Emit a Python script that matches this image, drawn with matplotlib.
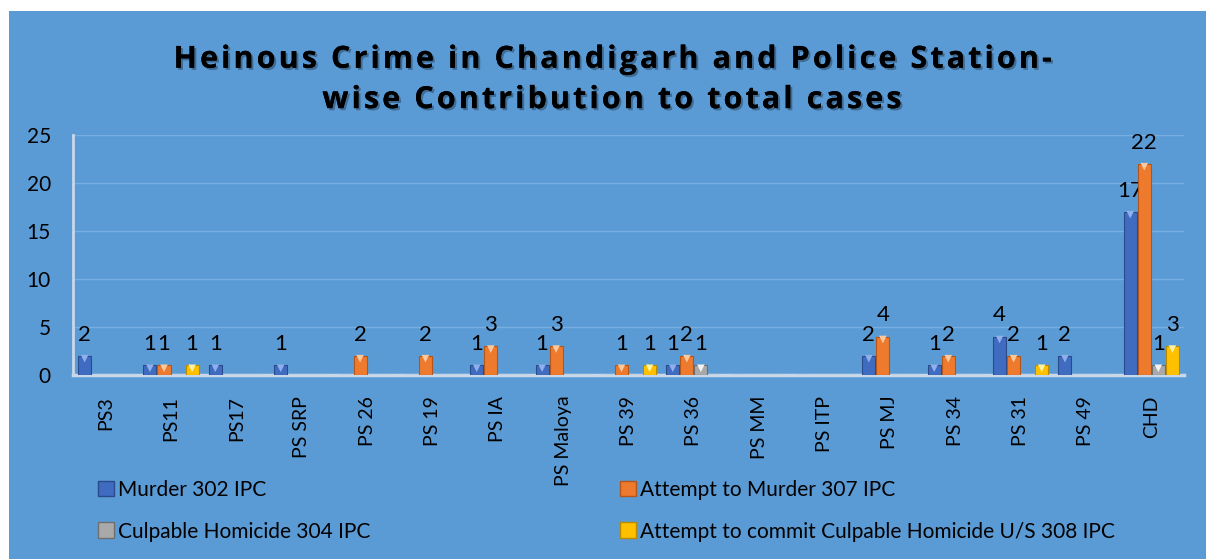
import numpy as np
import matplotlib
matplotlib.use('Agg')
import matplotlib.pyplot as plt
from matplotlib.patches import Rectangle, Patch
import matplotlib.patheffects as pe

# Datos del gráfico
estaciones = ['PS3', 'PS11', 'PS17', 'PS SRP', 'PS 26', 'PS 19', 'PS IA', 'PS Maloya',
              'PS 39', 'PS 36', 'PS MM', 'PS ITP', 'PS MJ', 'PS 34', 'PS 31', 'PS 49', 'CHD']
murder = [2, 1, 1, 1, 0, 0, 1, 1, 0, 1, 0, 0, 2, 1, 4, 2, 17]
attempt_murder = [0, 1, 0, 0, 2, 2, 3, 3, 1, 2, 0, 0, 4, 2, 2, 0, 22]
culpable = [0, 0, 0, 0, 0, 0, 0, 0, 0, 1, 0, 0, 0, 0, 0, 0, 1]
attempt_culpable = [0, 1, 0, 0, 0, 0, 0, 0, 1, 0, 0, 0, 0, 0, 1, 0, 3]

series = ['Murder 302 IPC', 'Attempt to Murder 307 IPC',
          'Culpable Homicide 304 IPC', 'Attempt to commit Culpable Homicide U/S 308 IPC']
colores = ['#3F6CC0', '#EE7A2E', '#A9A9A9', '#FFC000']
bordes = ['#2A4A8A', '#B4561A', '#6E6E6E', '#B88A00']
brillo = ['#8FB0EC', '#FBC9A0', '#F2F2F2', '#FFF2A0']

fondo = '#5B9BD5'
plt.rcParams['font.family'] = ['Lato', 'DejaVu Sans']

fig = plt.figure(figsize=(12.06, 5.59), dpi=100)
fig.patch.set_facecolor('white')
fig.patches.append(Rectangle((9 / 1206, 0), 1, (559 - 11) / 559, transform=fig.transFigure,
                             facecolor=fondo, edgecolor='none', zorder=-10))

ax = fig.add_axes([73 / 1206, 184 / 559, 1111 / 1206, 240 / 559])
ax.set_facecolor('none')

x = np.arange(len(estaciones))
ancho = 0.2
paso = 0.215
datos = [murder, attempt_murder, culpable, attempt_culpable]
for i, valores in enumerate(datos):
    pos = x + (i - 1.5) * paso
    barras = ax.bar(pos, valores, ancho, color=colores[i], edgecolor=bordes[i],
                    linewidth=0.8, zorder=3)
    # brillo en la parte superior de cada barra (efecto bisel)
    v = np.array(valores, dtype=float)
    m = v > 0
    ax.scatter(pos[m], v[m] - 0.3, marker='v', s=30, color=brillo[i],
               edgecolors='none', zorder=4)
    etiquetas = [str(int(k)) if k > 0 else '' for k in valores]
    ax.bar_label(barras, labels=etiquetas, padding=8, fontsize=16, color='black')

ax.set_xlim(-0.5, len(estaciones) - 0.5)
ax.set_ylim(0, 25)
ax.set_yticks([0, 5, 10, 15, 20, 25])
ax.tick_params(axis='y', length=0, labelsize=15, pad=16)
ax.set_xticks(x)
ax.set_xticklabels(estaciones, rotation=90, fontsize=14)
ax.tick_params(axis='x', length=0, pad=15)
ax.grid(axis='y', color='#79AEE0', linewidth=1, zorder=1)
for lado in ['top', 'right']:
    ax.spines[lado].set_visible(False)
ax.spines['bottom'].set_color('#C8D8EA')
ax.spines['bottom'].set_linewidth(2.5)
ax.spines['left'].set_color('#C8D8EA')
ax.spines['left'].set_linewidth(2)

hs = '\u200a'
linea1 = hs.join('Heinous Crime in Chandigarh and Police Station-')
linea2 = hs.join('wise Contribution to total cases')
fig.text(0.506, 0.857, linea1 + '\n' + linea2,
         ha='center', va='center', fontsize=22, fontweight='bold', linespacing=1.45,
         family=['Open Sans', 'DejaVu Sans'],
         path_effects=[pe.withSimplePatchShadow(offset=(1.5, -1.5), alpha=0.3), pe.Normal()])

manijas = [Patch(facecolor=colores[i], edgecolor=bordes[i]) for i in range(4)]
leg1 = fig.legend([manijas[0], manijas[2]], [series[0], series[2]], loc='upper left',
                  bbox_to_anchor=(79 / 1206, 1 - 461 / 559), frameon=False, fontsize=15,
                  handlelength=0.8, handleheight=0.8, handletextpad=0.15, labelspacing=1.05)
leg2 = fig.legend([manijas[1], manijas[3]], [series[1], series[3]], loc='upper left',
                  bbox_to_anchor=(601 / 1206, 1 - 461 / 559), frameon=False, fontsize=15,
                  handlelength=0.8, handleheight=0.8, handletextpad=0.15, labelspacing=1.05)

fig.savefig('out.png', dpi=100, facecolor=fig.get_facecolor())
